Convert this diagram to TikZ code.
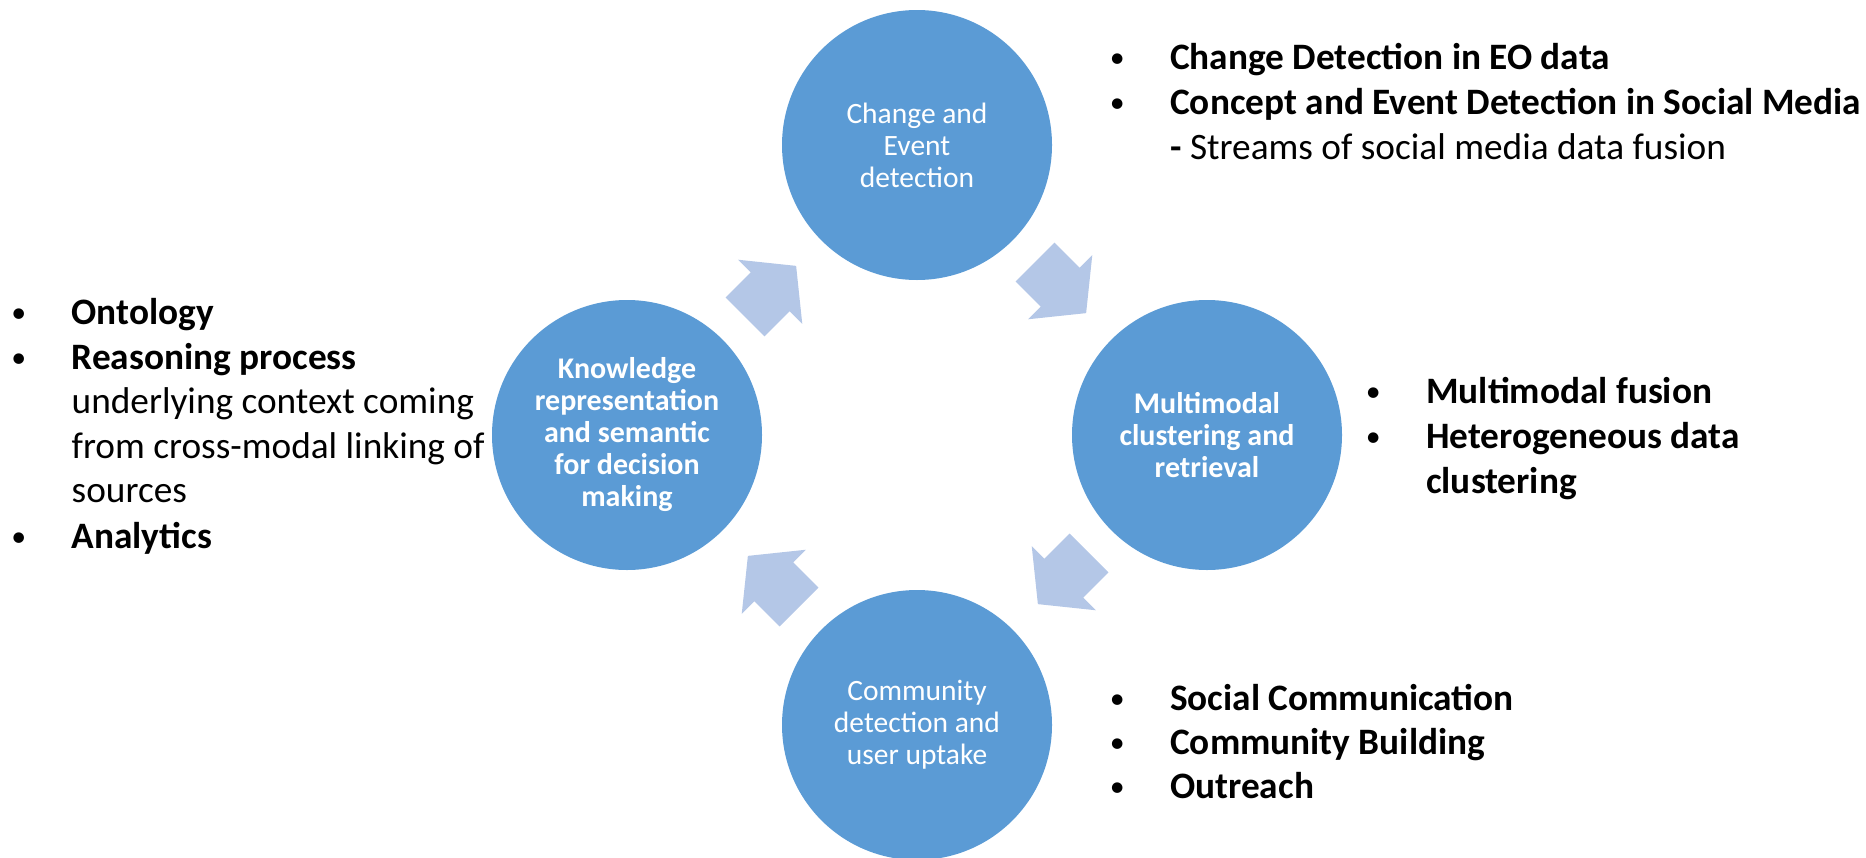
\documentclass[tikz,border=0pt]{standalone}
\usepackage{fontspec}
\setmainfont{Carlito}
\definecolor{circ}{HTML}{5B9BD5}
\definecolor{arr}{HTML}{B4C7E7}
\newcommand{\bul}{\makebox[0pt][r]{\makebox[0pt][c]{\raisebox{2pt}{\scalebox{0.8}{•}}}\hspace{53pt}}}
\begin{document}
\begin{tikzpicture}[x=1pt,y=-1pt,
  bub/.style={circle, fill=circ, minimum size=270pt, inner sep=0pt, text=white, align=center, font=\fontsize{29.5}{32}\selectfont},
  bubb/.style={bub, font=\fontsize{30}{32}\selectfont\bfseries},
  item/.style={anchor=base west, inner sep=0pt, font=\fontsize{37.3}{44.8}\selectfont},
  flow/.pic={\fill[arr] (0,-27.5) -- (35.6,-27.5) -- (35.6,-45.4) -- (72.3,0) -- (35.6,45.4) -- (35.6,27.5) -- (0,27.5) -- cycle;}
]
\path[use as bounding box] (0,0) rectangle (1866,857);
\clip (0,0) rectangle (1866,857);

% circles
\node[bub]  (top)    at (917,145) {Change and\\Event\\detection};
\node[bubb] (right)  at (1207,435) {Multimodal\\clustering and\\retrieval};
\node[bub]  (bottom) at (917,725) {Community\\detection and\\user uptake};
\node[bubb] (left)   at (627,435) {Knowledge\\representation\\and semantic\\for decision\\making};

% block arrows
\pic[rotate=-45]  at (1035,262) {flow};
\pic[rotate=-135] at (1089,553) {flow};
\pic[rotate=135]  at (799,607) {flow};
\pic[rotate=45]   at (745,317) {flow};

% left list
\node[item] (l1) at (71.5,324.3) {\bul\textbf{Ontology}};
\node[item] (l2) at (71.5,369.3) {\bul\textbf{Reasoning process}};
\node[item] (l3) at (71.5,413.3) {underlying context coming};
\node[item] (l4) at (71.5,458.3) {from cross-modal linking of};
\node[item] (l5) at (71.5,502.7) {sources};
\node[item] (l6) at (71.5,548.3) {\bul\textbf{Analytics}};

% top-right list
\node[item] (t1) at (1170,69) {\bul\textbf{Change Detection in EO data}};
\node[item] (t2) at (1170,114) {\bul\textbf{Concept and Event Detection in Social Media}};
\node[item] (t3) at (1170,159) {\textbf{-} Streams of social media data fusion};

% right list
\node[item] (r1) at (1426,403) {\bul\textbf{Multimodal fusion}};
\node[item] (r2) at (1426,448) {\bul\textbf{Heterogeneous data}};
\node[item] (r3) at (1426,493) {\textbf{clustering}};

% bottom-right list
\node[item] (b1) at (1170,710) {\bul\textbf{Social Communication}};
\node[item] (b2) at (1170,754) {\bul\textbf{Community Building}};
\node[item] (b3) at (1170,798) {\bul\textbf{Outreach}};
\end{tikzpicture}
\end{document}
